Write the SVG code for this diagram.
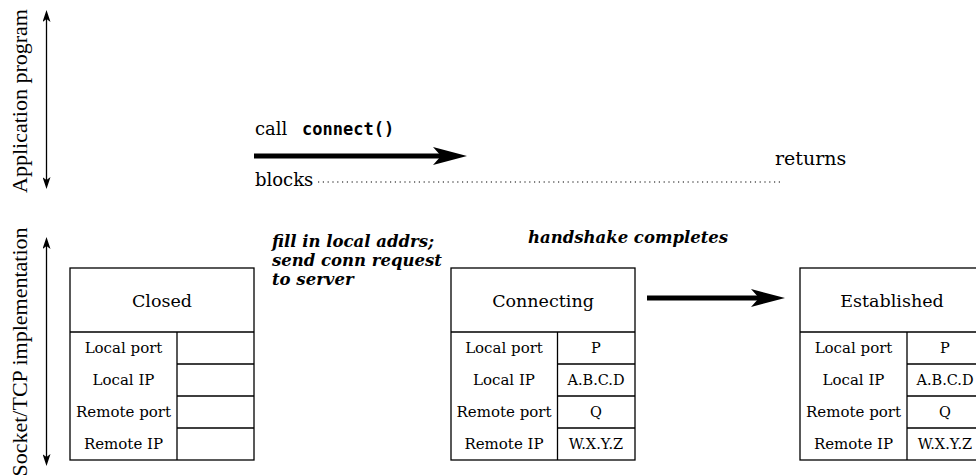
<svg xmlns="http://www.w3.org/2000/svg" width="976" height="476" viewBox="0 0 976 476">
<style>
  .box{fill:#fff;stroke:#000;stroke-width:1.3}
  .ln{stroke:#000;stroke-width:1.3;fill:none}
  .hdr{font-family:"DejaVu Serif",serif;font-size:17.5px;text-anchor:middle;fill:#000}
  .lbl{font-family:"DejaVu Serif",serif;font-size:15px;text-anchor:middle;fill:#000}
  .val{font-family:"DejaVu Serif",serif;font-size:14.5px;text-anchor:middle;fill:#000}
  .note{font-family:"DejaVu Serif",serif;font-size:16.5px;font-weight:bold;font-style:italic;fill:#000}
  .txt{font-family:"DejaVu Serif",serif;font-size:18px;fill:#000}
  .side{font-family:"Liberation Serif",serif;font-size:22px;text-anchor:middle;fill:#000}
  .mono{font-family:"DejaVu Sans Mono",monospace;font-size:17px;font-weight:bold;fill:#000}
</style>
<defs>
  <marker id="big" viewBox="0 0 34 18" refX="14" refY="9" markerWidth="34" markerHeight="18" markerUnits="userSpaceOnUse" orient="auto">
    <path d="M0,0 L34,9 L0,18 L8,9 z" fill="#000"/>
  </marker>
  <marker id="thin" viewBox="0 0 12 8" refX="8" refY="4" markerWidth="12" markerHeight="8" markerUnits="userSpaceOnUse" orient="auto-start-reverse">
    <path d="M0,0 L12,4 L0,8 L3,4 z" fill="#000"/>
  </marker>
</defs>

<g id="side-labels">
  <text class="side" transform="translate(27,101) rotate(-90)">Application program</text>
  <text class="side" transform="translate(27,352) rotate(-90)">Socket/TCP implementation</text>
</g>

<g id="connectors">
  <line x1="46.5" y1="14" x2="46.5" y2="185" stroke="#000" stroke-width="1.3" marker-start="url(#thin)" marker-end="url(#thin)"/>
  <line x1="46.5" y1="241" x2="46.5" y2="462" stroke="#000" stroke-width="1.3" marker-start="url(#thin)" marker-end="url(#thin)"/>
  <line x1="254" y1="156" x2="447" y2="156" stroke="#000" stroke-width="5" marker-end="url(#big)"/>
  <line x1="647" y1="298" x2="765" y2="298" stroke="#000" stroke-width="5" marker-end="url(#big)"/>
  <line x1="318" y1="182" x2="783" y2="182" stroke="#000" stroke-width="1.2" stroke-dasharray="1.2 3.6"/>
</g>

<g id="app-labels">
  <text class="txt" x="255" y="135">call</text>
  <text class="mono" x="302" y="135">connect()</text>
  <text class="txt" x="255" y="186">blocks</text>
  <text class="txt" x="775" y="165" style="font-size:19px">returns</text>
</g>

<g id="notes">
  <text class="note" x="272" y="247">fill in local addrs;</text>
  <text class="note" x="272" y="266">send conn request</text>
  <text class="note" x="272" y="285">to server</text>
  <text class="note" x="528" y="243">handshake completes</text>
</g>

<g id="closed">
  <rect class="box" x="70" y="268" width="184" height="192"/>
  <path class="ln" d="M70,332H254 M177,332V460 M177,364H254 M177,396H254 M177,428H254"/>
  <text class="hdr" x="162" y="307">Closed</text>
  <text class="lbl" x="123.5" y="353">Local port</text>
  <text class="lbl" x="123.5" y="385">Local IP</text>
  <text class="lbl" x="123.5" y="417">Remote port</text>
  <text class="lbl" x="123.5" y="449">Remote IP</text>
</g>

<g id="connecting">
  <rect class="box" x="451" y="268" width="184" height="192"/>
  <path class="ln" d="M451,332H635 M557.5,332V460 M557.5,364H635 M557.5,396H635 M557.5,428H635"/>
  <text class="hdr" x="543" y="307">Connecting</text>
  <text class="lbl" x="504" y="353">Local port</text>
  <text class="lbl" x="504" y="385">Local IP</text>
  <text class="lbl" x="504" y="417">Remote port</text>
  <text class="lbl" x="504" y="449">Remote IP</text>
  <text class="val" x="596" y="353">P</text>
  <text class="val" x="596" y="385">A.B.C.D</text>
  <text class="val" x="596" y="417">Q</text>
  <text class="val" x="596" y="449">W.X.Y.Z</text>
</g>

<g id="established">
  <rect class="box" x="800" y="268" width="184" height="192"/>
  <path class="ln" d="M800,332H984 M907,332V460 M907,364H984 M907,396H984 M907,428H984"/>
  <text class="hdr" x="892" y="307">Established</text>
  <text class="lbl" x="853.5" y="353">Local port</text>
  <text class="lbl" x="853.5" y="385">Local IP</text>
  <text class="lbl" x="853.5" y="417">Remote port</text>
  <text class="lbl" x="853.5" y="449">Remote IP</text>
  <text class="val" x="945" y="353">P</text>
  <text class="val" x="945" y="385">A.B.C.D</text>
  <text class="val" x="945" y="417">Q</text>
  <text class="val" x="945" y="449">W.X.Y.Z</text>
</g>
</svg>
